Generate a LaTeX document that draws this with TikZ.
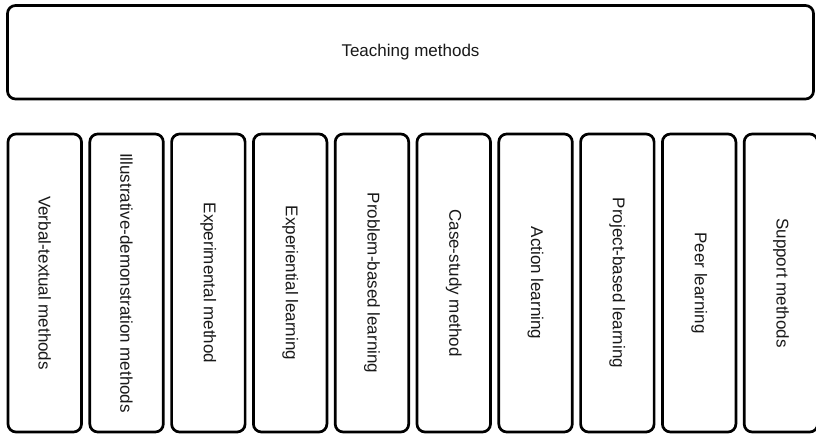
\documentclass[tikz,border=0pt]{standalone}
\usepackage{fontspec}
\setmainfont{Liberation Sans}
\begin{document}
\begin{tikzpicture}[x=1pt,y=-1pt,
  box/.style={draw=black, line width=2.7pt, rounded corners=8pt, fill=white,
    inner sep=0pt, text=black!90, font=\fontsize{17}{20}\selectfont},
  topbox/.style={box, minimum width=806pt, minimum height=93.5pt},
  colbox/.style={box, rotate=-90, minimum width=298pt, minimum height=73.5pt}]
\useasboundingbox (0,0) rectangle (816,436);
\clip (0,0) rectangle (816,436);
\node[topbox] (top) at (410.5,52.25) {Teaching methods};
\foreach \t [count=\i from 0] in {Verbal-textual methods,Illustrative-demonstration methods,Experimental method,Experiential learning,Problem-based learning,Case-study method,Action learning,Project-based learning,Peer learning,Support methods}{
  \node[colbox] (c\i) at ({44.75+\i*81.8},283) {\t};
}
\end{tikzpicture}
\end{document}
